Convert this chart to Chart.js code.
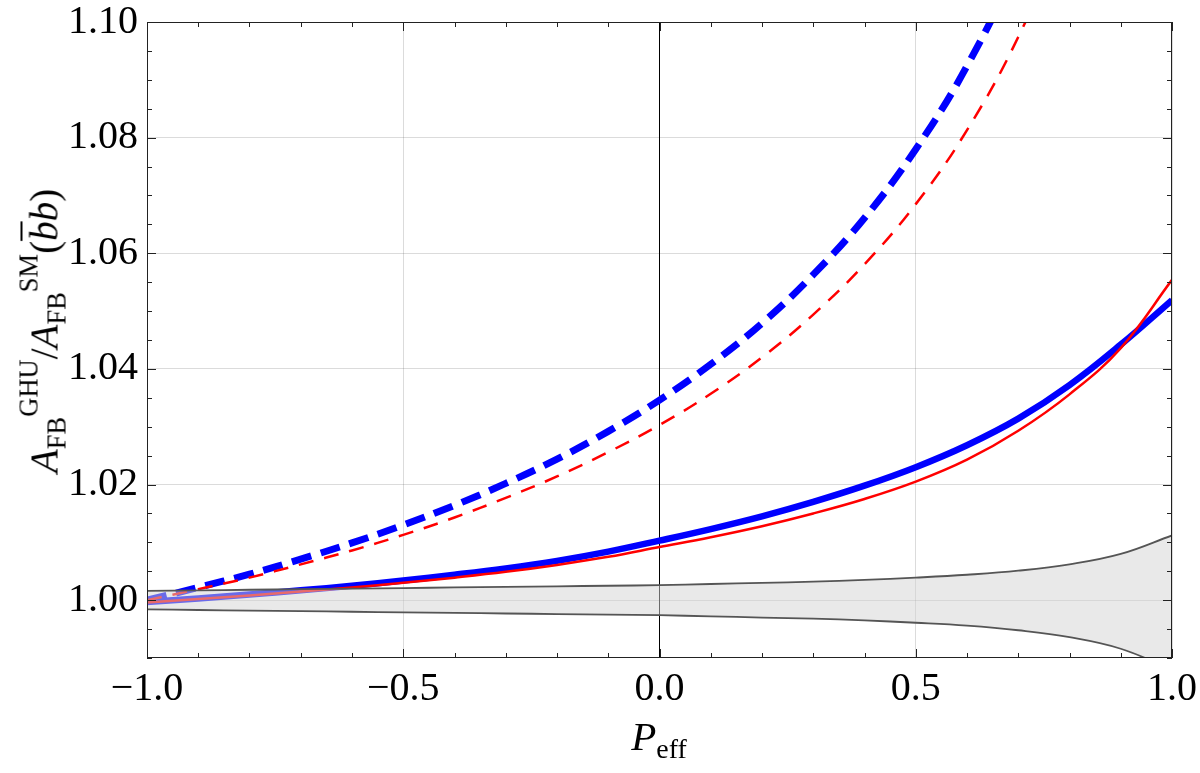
<!DOCTYPE html>
<html>
<head>
<meta charset="utf-8">
<script src="https://cdn.jsdelivr.net/npm/chart.js@4"></script>
<style>
  html, body { margin: 0; padding: 0; background: #fff; }
  #wrap { position: relative; width: 1200px; height: 773px; font-family: 'Liberation Serif', 'DejaVu Serif', serif; color: #000; }
  #chart { position: absolute; left: 0; top: 0; }
  .ytitle {
    position: absolute; left: 44px; top: 331px; white-space: nowrap;
    transform: translate(-50%, -50%) rotate(-90deg);
    font-size: 39px; line-height: 1;
  }
  .xtitle {
    position: absolute; left: 659px; top: 736px; white-space: nowrap;
    transform: translate(-50%, -50%);
    font-size: 41px; line-height: 1;
  }
  sub, sup { font-size: 0.68em; line-height: 0; }
  sub { vertical-align: -0.3em; }
  sup { vertical-align: 0.75em; }
  .bar { text-decoration: overline; text-decoration-thickness: 2px; }
</style>
</head>
<body>
<div id="wrap">
  <canvas id="chart" width="1200" height="773"></canvas>
  <div class="ytitle"><i>A</i><sub>FB</sub><sup>GHU</sup>/<i>A</i><sub>FB</sub><sup>SM</sup>(<i class="bar">b</i><i>b</i>)</div>
  <div class="xtitle"><i>P</i><sub>eff</sub></div>
</div>
<script>
// P_eff sample points
const pEff = [-1.0, -0.9, -0.8, -0.7, -0.6, -0.5, -0.4, -0.3, -0.2, -0.1, 0.0,
              0.1, 0.2, 0.3, 0.4, 0.5, 0.6, 0.7, 0.8, 0.9, 1.0];

// A_FB^GHU / A_FB^SM
const redSolid = [0.9996, 1.0002, 1.0008, 1.0015, 1.0022, 1.0030, 1.0039, 1.0049, 1.0061, 1.0075, 1.0092,
                  1.0109, 1.0128, 1.0150, 1.0175, 1.0205, 1.0243, 1.0293, 1.0356, 1.0436, 1.0554];
const blueSolid = [0.9997, 1.0003, 1.0010, 1.0017, 1.0025, 1.0034, 1.0044, 1.0055, 1.0068, 1.0084, 1.0103,
                   1.0123, 1.0145, 1.0170, 1.0198, 1.0230, 1.0268, 1.0314, 1.0372, 1.0442, 1.0519];
const redDashed = [1.0000, 1.0019, 1.0039, 1.0062, 1.0086, 1.0113, 1.0143, 1.0177, 1.0214, 1.0256, 1.0303,
                   1.0357, 1.0420, 1.0494, 1.0581, 1.0685, 1.0813, 1.0974, 1.1180, 1.1450, 1.1800];
const blueDashed = [1.0000, 1.0022, 1.0045, 1.0071, 1.0099, 1.0130, 1.0164, 1.0202, 1.0244, 1.0292, 1.0346,
                    1.0408, 1.0479, 1.0563, 1.0661, 1.0780, 1.0924, 1.1106, 1.1350, 1.1700, 1.2200];

// SM uncertainty band
const bandUpper = [1.0016, 1.0017, 1.0018, 1.0019, 1.0020, 1.0021, 1.0022, 1.0023, 1.0024, 1.0025, 1.0026,
                   1.0028, 1.0030, 1.0032, 1.0035, 1.0039, 1.0044, 1.0051, 1.0062, 1.0080, 1.0112];
const bandLower = [0.9984, 0.9983, 0.9982, 0.9981, 0.9980, 0.9979, 0.9978, 0.9977, 0.9976, 0.9975, 0.9974,
                   0.9972, 0.9970, 0.9968, 0.9965, 0.9961, 0.9956, 0.9948, 0.9936, 0.9916, 0.9880];

// axis ticks
const xTickValues = [-1.0, -0.5, 0.0, 0.5, 1.0];
const yTickValues = [1.00, 1.02, 1.04, 1.06, 1.08, 1.10];

const toPoints = (ys) => pEff.map((x, i) => ({ x: x, y: ys[i] }));

/**
 * Frame plus Mathematica-style inward ticks on all four sides
 */
const frameTicks = {
  id: 'frameTicks',
  afterDatasetsDraw(chart) {
    const { ctx, chartArea: a, scales: { x, y } } = chart;
    ctx.save();
    ctx.strokeStyle = '#222';
    ctx.lineWidth = 1;
    ctx.beginPath();
    for (let i = 0; i <= 20; i++) {
      const px = Math.round(x.getPixelForValue(-1 + i * 0.1)) + 0.5;
      const len = i % 5 === 0 ? 9 : 5;
      ctx.moveTo(px, a.bottom); ctx.lineTo(px, a.bottom - len);
      ctx.moveTo(px, a.top); ctx.lineTo(px, a.top + len);
    }
    for (let j = 0; j <= 22; j++) {
      const py = Math.round(y.getPixelForValue(0.99 + j * 0.005)) + 0.5;
      const len = (j - 2) % 4 === 0 ? 9 : 5;
      ctx.moveTo(a.left, py); ctx.lineTo(a.left + len, py);
      ctx.moveTo(a.right, py); ctx.lineTo(a.right - len, py);
    }
    ctx.stroke();
    ctx.strokeRect(a.left + 0.5, a.top + 0.5, a.width - 1, a.height - 1);
    ctx.restore();
  },
};

const lineBase = { pointRadius: 0, fill: false, tension: 0.4, clip: 0 };

new Chart(document.getElementById('chart'), {
  type: 'line',
  data: {
    datasets: [
      { ...lineBase, label: 'GHU red', data: toPoints(redSolid), borderColor: '#ff0000', borderWidth: 2.5, order: 1 },
      { ...lineBase, label: 'GHU red dashed', data: toPoints(redDashed), borderColor: '#ff0000', borderWidth: 2.5, borderDash: [15, 11], order: 1 },
      { ...lineBase, label: 'GHU blue', data: toPoints(blueSolid), borderColor: '#0000ff', borderWidth: 6.5, order: 1 },
      { ...lineBase, label: 'GHU blue dashed', data: toPoints(blueDashed), borderColor: '#0000ff', borderWidth: 7, borderDash: [20, 10], order: 1 },
      { ...lineBase, label: 'SM upper', data: toPoints(bandUpper), borderColor: '#555555', borderWidth: 1.8, order: 0 },
      { ...lineBase, label: 'SM lower', data: toPoints(bandLower), borderColor: '#555555', borderWidth: 1.8, order: 0,
        fill: '-1', backgroundColor: 'rgba(212, 212, 212, 0.5)' },
    ],
  },
  options: {
    responsive: false,
    animation: false,
    events: [],
    devicePixelRatio: 1,
    layout: { padding: { top: 22, right: 28, left: 0, bottom: 0 } },
    plugins: { legend: { display: false }, tooltip: { enabled: false } },
    scales: {
      x: {
        type: 'linear',
        min: -1,
        max: 1,
        afterFit: (s) => { s.height = 115; s.paddingLeft = 0; s.paddingRight = 0; },
        afterBuildTicks: (s) => { s.ticks = xTickValues.map((v) => ({ value: v })); },
        grid: {
          drawTicks: false,
          color: (c) => (c.tick && c.tick.value === 0 ? '#000000' : 'rgba(0, 0, 0, 0.14)'),
        },
        border: { display: false },
        ticks: {
          padding: 7,
          color: '#000',
          maxRotation: 0,
          font: { family: "'Liberation Serif', serif", size: 40 },
          callback: (v) => Number(v).toFixed(1).replace('-', '\u2212'),
        },
      },
      y: {
        type: 'linear',
        min: 0.99,
        max: 1.10,
        afterFit: (s) => { s.width = 147; s.paddingTop = 0; s.paddingBottom = 0; },
        afterBuildTicks: (s) => { s.ticks = yTickValues.map((v) => ({ value: v })); },
        grid: { drawTicks: false, color: 'rgba(0, 0, 0, 0.14)' },
        border: { display: false },
        ticks: {
          padding: 9,
          color: '#000',
          font: { family: "'Liberation Serif', serif", size: 40 },
          callback: (v) => Number(v).toFixed(2),
        },
      },
    },
  },
  plugins: [frameTicks],
});
</script>
</body>
</html>
